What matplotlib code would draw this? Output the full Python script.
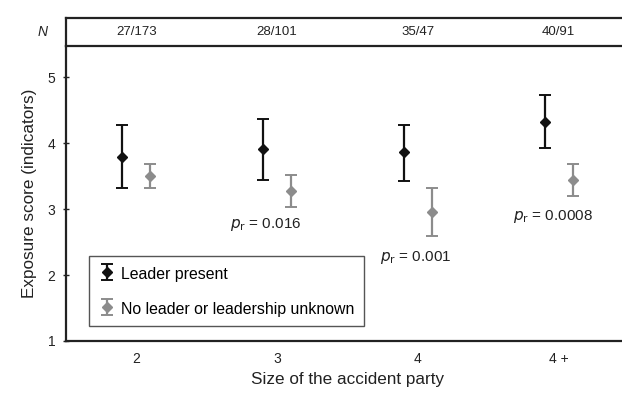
import matplotlib
matplotlib.use("Agg")
import matplotlib.pyplot as plt
import numpy as np

plt.rcParams['font.family'] = ['Liberation Sans', 'DejaVu Sans']

categories = ["2", "3", "4", "4 +"]
n_labels = ["27/173", "28/101", "35/47", "40/91"]
leader_mean = [3.79, 3.91, 3.86, 4.32]
leader_low = [3.32, 3.44, 3.42, 3.92]
leader_high = [4.27, 4.36, 4.27, 4.73]
noleader_mean = [3.50, 3.27, 2.95, 3.44]
noleader_low = [3.32, 3.03, 2.59, 3.20]
noleader_high = [3.68, 3.52, 3.32, 3.68]
p_labels = ["", "0.016", "0.001", "0.0008"]
p_ypos = [None, 2.77, 2.27, 2.88]
p_xshift = [0, -0.08, -0.015, -0.04]

fig = plt.figure(figsize=(6.22, 3.93), dpi=100)
W, H = 622, 393
ax = fig.add_axes([66 / W, 1 - 341 / H, 563 / W, (341 - 46) / H])
hx = fig.add_axes([66 / W, 1 - 46 / H, 563 / W, (46 - 18) / H])

x = np.arange(len(categories))
off = 0.1
black = '#111111'
gray = '#8c8c8c'
txt = '#222222'

lm = np.array(leader_mean)
nm = np.array(noleader_mean)
ax.errorbar(x - off, lm, yerr=[lm - np.array(leader_low), np.array(leader_high) - lm],
            fmt='D', color=black, ecolor=black, markersize=5, capsize=4, elinewidth=1.6,
            capthick=1.4, label='Leader present')
ax.errorbar(x + off, nm, yerr=[nm - np.array(noleader_low), np.array(noleader_high) - nm],
            fmt='D', color=gray, ecolor=gray, markersize=5, capsize=4, elinewidth=1.6,
            capthick=1.4, label='No leader or leadership unknown')

for i, (lab, yp) in enumerate(zip(p_labels, p_ypos)):
    if lab:
        ax.text(x[i] + p_xshift[i], yp, r'$p_{\mathrm{r}}$' + ' = ' + lab, ha='center', va='center',
                fontsize=11, color=txt)

ax.set_xlim(-0.5, 3.5)
ax.set_ylim(1, 5.47)
ax.set_yticks([1, 2, 3, 4, 5])
ax.set_xticks(x)
ax.set_xticklabels(categories)
ax.tick_params(axis='x', length=0, pad=8, labelsize=10, colors=txt)
ax.tick_params(axis='y', direction='inout', length=5, width=1, labelsize=10, colors=txt, pad=5)
ax.set_ylabel('Exposure score (indicators)', fontsize=12.3, color=txt, labelpad=8)
ax.set_xlabel('Size of the accident party', fontsize=12.3, color=txt, labelpad=4)
for s in ax.spines.values():
    s.set_linewidth(1.6)
    s.set_color('#222222')
ax.spines['top'].set_visible(False)

leg = ax.legend(loc='lower left', bbox_to_anchor=(0.041, 0.05), borderaxespad=0,
                fontsize=11.4, fancybox=False, edgecolor='#555555', framealpha=1,
                handletextpad=0.3, borderpad=0.6, labelspacing=1.15, handlelength=1.1,
                handleheight=1.2)
leg.get_frame().set_linewidth(1.0)

hx.set_xlim(-0.5, 3.5)
hx.set_ylim(0, 1)
hx.set_xticks([])
hx.set_yticks([])
for s in hx.spines.values():
    s.set_linewidth(1.6)
    s.set_color('#222222')
for i, lab in enumerate(n_labels):
    hx.text(x[i], 0.5, lab, ha='center', va='center', fontsize=9.5, color=txt)
hx.text(-0.63, 0.5, 'N', ha='right', va='center', fontsize=10, style='italic', color=txt)

fig.savefig('out.png', dpi=100)
